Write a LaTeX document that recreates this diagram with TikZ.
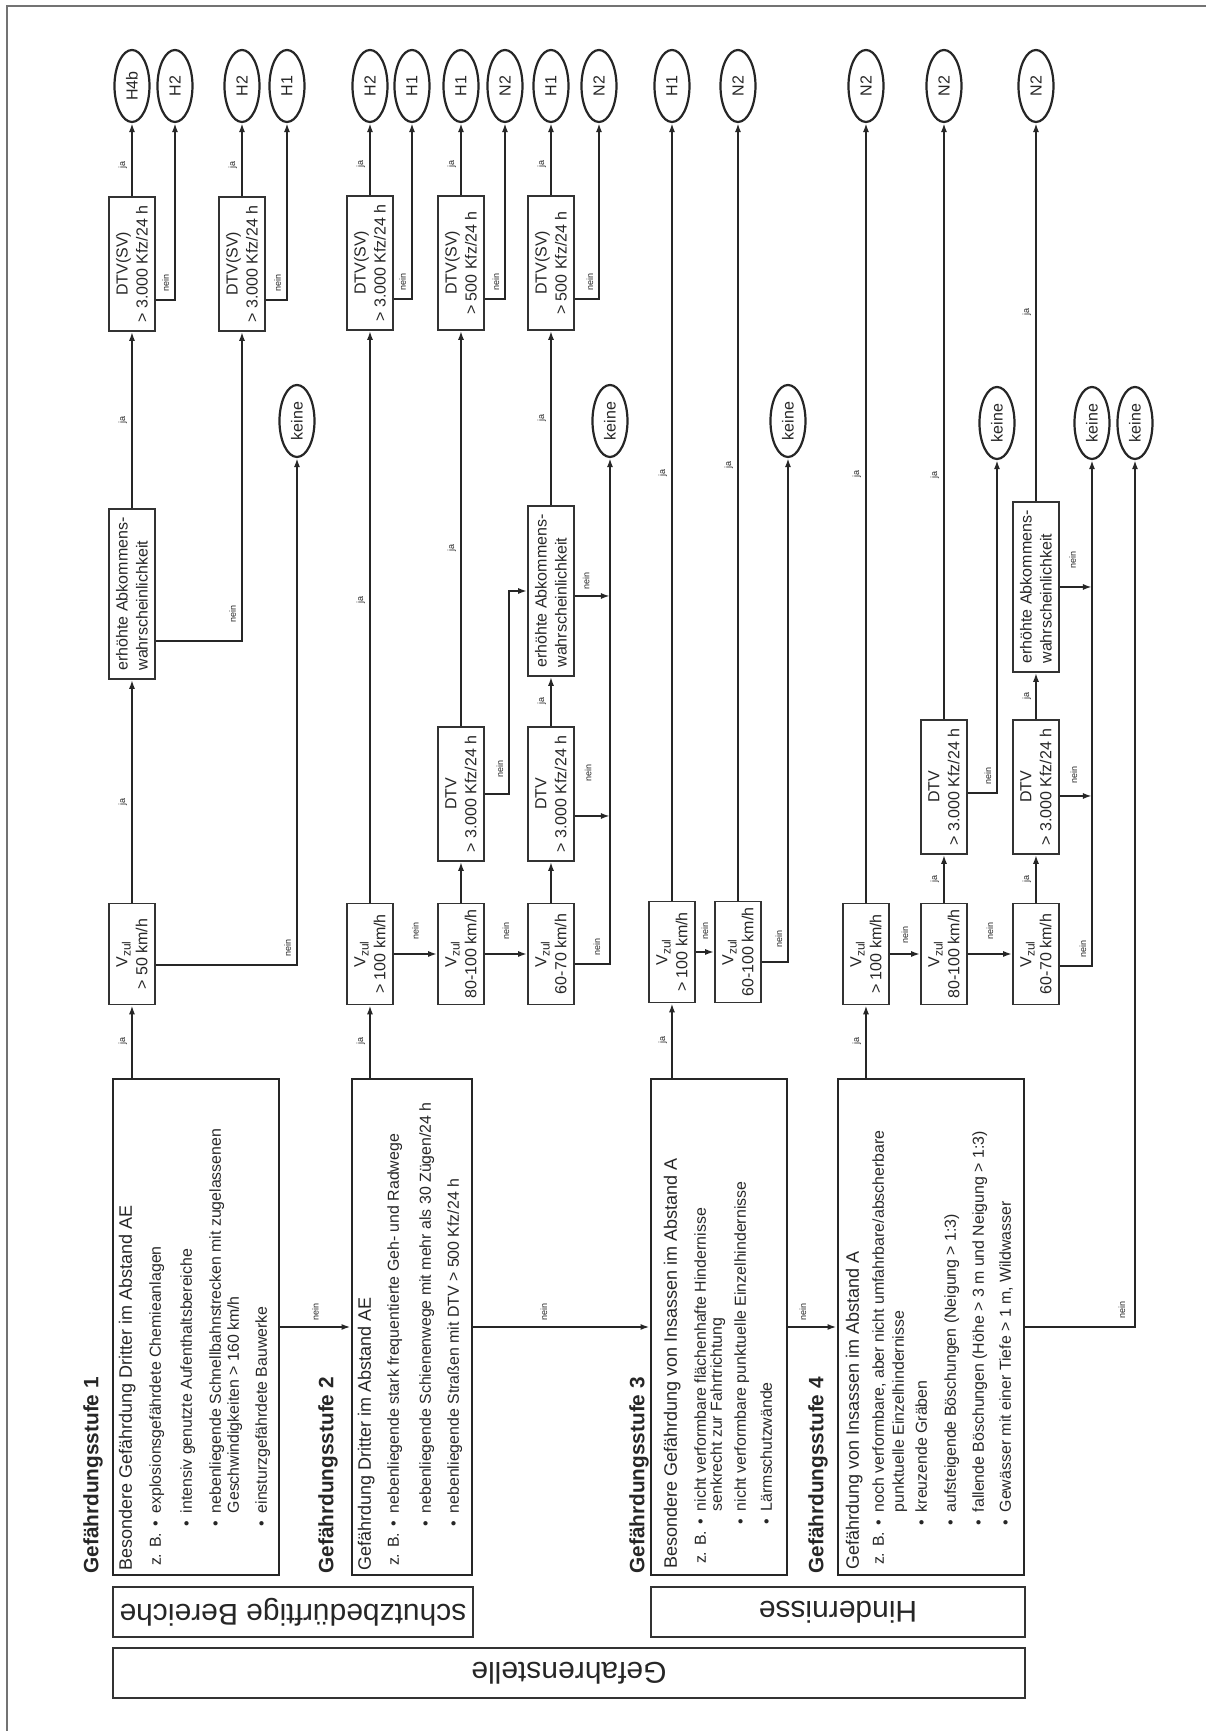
\documentclass[tikz,border=0pt]{standalone}
\usepackage{fontspec}
\setmainfont{Liberation Sans}
\usetikzlibrary{arrows.meta,shapes.geometric}
\begin{document}
\begin{tikzpicture}[x=0.5pt, y=0.5pt, rotate=90, transform shape,
  every node/.style={font=\fontsize{8}{10}\selectfont, text=black!85},
  stagebox/.style={draw=black!85, line width=1.4pt, minimum width=248pt, inner sep=0pt},
  stagetext/.style={anchor=north west, inner sep=0pt, font=\fontsize{7.95}{9.5}\selectfont},
  stagehead/.style={anchor=west, inner sep=0pt, font=\fontsize{10.4}{12}\selectfont\bfseries},
  qbox/.style={draw=black!80, line width=0.8pt, align=center, inner sep=1pt, minimum height=23pt},
  vbox/.style={qbox, minimum width=50.5pt},
  dtvbox/.style={qbox, minimum width=67pt},
  abkbox/.style={qbox, minimum width=85pt, align=left},
  result/.style={ellipse, draw=black!85, line width=1.1pt, minimum width=36pt, minimum height=17.5pt, inner sep=0pt},
  band/.style={draw=black!80, line width=0.9pt, rotate=90, minimum height=25pt, inner sep=0pt, font=\fontsize{15}{18}\selectfont},
  flow/.style={draw=black!85, line width=0.9pt, -{Latex[length=4.5pt,width=3pt]}},
  lbl/.style={font=\fontsize{4.5}{5}\selectfont, inner sep=2pt},
  crn/.style={lbl, pos=0.5, anchor=south west, xshift=2pt, yshift=0.5pt}]

\useasboundingbox (0,0) rectangle (1731,1206);

% page frame
\draw[black!55, line width=0.8pt] (0,1199) -- (1725,1199) -- (1725,0);

% bands
\node[band, minimum width=180pt] (bsb) at (119,913) {schutzbedürftige Bereiche};
\node[band, minimum width=187pt] (bhi) at (119,368) {Hindernisse};
\node[band, minimum width=456pt] (bgs) at (58,637) {Gefahrenstelle};

% stages
\node[stagebox, minimum height=83pt] (s1) at (404,1010) {};
\node[stagebox, minimum height=60pt] (s2) at (404,794) {};
\node[stagebox, minimum height=68pt] (s3) at (404,487) {};
\node[stagebox, minimum height=93pt] (s4) at (404,275) {};
\node[stagehead] (h1) at (157,1113) {Gefährdungsstufe 1};
\node[stagehead] (h2) at (157,878) {Gefährdungsstufe 2};
\node[stagehead] (h3) at (157,567) {Gefährdungsstufe 3};
\node[stagehead] (h4) at (157,388) {Gefährdungsstufe 4};

\node[stagetext, xshift=2.5pt, yshift=-3.35pt] (t1) at (s1.north west) {%
\begin{tabular}{@{}l@{\hspace{3pt}}l@{}}
\multicolumn{2}{@{}l@{}}{\fontsize{9}{10}\selectfont Besondere Gefährdung Dritter im Abstand AE}\\[5pt]
\hspace{2.5pt}z. B. & \textbullet\enspace explosionsgefährdete Chemieanlagen\\[6pt]
 & \textbullet\enspace intensiv genutzte Aufenthaltsbereiche\\[5pt]
 & \textbullet\enspace nebenliegende Schnellbahnstrecken mit zugelassenen\\[-0.5pt]
 & \hphantom{\textbullet\enspace}Geschwindigkeiten > 160 km/h\\[4.5pt]
 & \textbullet\enspace einsturzgefährdete Bauwerke
\end{tabular}};
\node[stagetext, xshift=2.5pt, yshift=-3.35pt] (t2) at (s2.north west) {%
\begin{tabular}{@{}l@{\hspace{3pt}}l@{}}
\multicolumn{2}{@{}l@{}}{\fontsize{9}{10}\selectfont Gefährdung Dritter im Abstand AE}\\[4.5pt]
\hspace{2.5pt}z. B. & \textbullet\enspace nebenliegende stark frequentierte Geh- und Radwege\\[6.5pt]
 & \textbullet\enspace nebenliegende Schienenwege mit mehr als 30 Zügen/24 h\\[4.5pt]
 & \textbullet\enspace nebenliegende Straßen mit DTV > 500 Kfz/24 h
\end{tabular}};
\node[stagetext, xshift=3.5pt, yshift=-6.85pt] (t3) at (s3.north west) {%
\begin{tabular}{@{}l@{\hspace{3pt}}l@{}}
\multicolumn{2}{@{}l@{}}{\fontsize{9}{10}\selectfont Besondere Gefährdung von Insassen im Abstand A}\\[5pt]
\hspace{2.5pt}z. B. & \textbullet\enspace nicht verformbare flächenhafte Hindernisse\\[-1.5pt]
 & \hphantom{\textbullet\enspace}senkrecht zur Fahrtrichtung\\[2.5pt]
 & \textbullet\enspace nicht verformbare punktuelle Einzelhindernisse\\[3.5pt]
 & \textbullet\enspace Lärmschutzwände
\end{tabular}};
\node[stagetext, xshift=3pt, yshift=-4.35pt] (t4) at (s4.north west) {%
\begin{tabular}{@{}l@{\hspace{3pt}}l@{}}
\multicolumn{2}{@{}l@{}}{\fontsize{9}{10}\selectfont Gefährdung von Insassen im Abstand A}\\[3pt]
\hspace{2.5pt}z. B. & \textbullet\enspace noch verformbare, aber nicht umfahrbare/abscherbare\\[0.5pt]
 & \hphantom{\textbullet\enspace}punktuelle Einzelhindernisse\\[2pt]
 & \textbullet\enspace kreuzende Gräben\\[5pt]
 & \textbullet\enspace aufsteigende Böschungen (Neigung > 1:3)\\[4.5pt]
 & \textbullet\enspace fallende Böschungen (Höhe > 3 m und Neigung > 1:3)\\[4pt]
 & \textbullet\enspace Gewässer mit einer Tiefe > 1 m, Wildwasser
\end{tabular}};

\draw[flow] (s1.south) -- (s1.south |- s2.north) node[lbl, midway, right=1pt] {nein};
\draw[flow] (s2.south) -- (s2.south |- s3.north) node[lbl, pos=0.4, right=1pt] {nein};
\draw[flow] (s3.south) -- (s3.south |- s4.north) node[lbl, pos=0.3, right=1pt] {nein};

% stage 1
\node[vbox] (a1) at (777,1074) {V\textsubscript{zul}\\> 50 km/h};
\node[abkbox] (e1) at (1137,1074) {erhöhte Abkommens-\\wahrscheinlichkeit};
\node[dtvbox] (d1a) at (1467,1074) {DTV(SV)\\> 3.000 Kfz/24 h};
\node[dtvbox] (d1b) at (1467,964) {DTV(SV)\\> 3.000 Kfz/24 h};
\node[result] (o1a) at (1645,1074) {H4b};
\node[result] (o1b) at (1645,1031) {H2};
\node[result] (o1c) at (1645,964) {H2};
\node[result] (o1d) at (1645,919) {H1};
\node[result] (k1) at (1310,909) {keine};
\coordinate (a1n) at ([xshift=-5.5pt]a1.south);
\coordinate (e1n) at ([xshift=-23.5pt]e1.south);
\coordinate (d1an) at ([xshift=-18pt]d1a.south);
\coordinate (d1bn) at ([xshift=-18pt]d1b.south);

\draw[flow] (s1.east |- a1.west) -- (a1.west) node[lbl, midway, above] {ja};
\draw[flow] (a1.east) -- (e1.west) node[lbl, pos=0.45, above] {ja};
\draw[flow] (e1.east) -- (d1a.west) node[lbl, midway, above] {ja};
\draw[flow] (d1a.east) -- (o1a.west) node[lbl, pos=0.43, above] {ja};
\draw[flow] (d1an) |- (o1b.west) node[crn] {nein};
\draw[flow] (e1n) |- (d1b.west) node[crn, xshift=5pt] {nein};
\draw[flow] (d1b.east) -- (o1c.west) node[lbl, pos=0.43, above] {ja};
\draw[flow] (d1bn) |- (o1d.west) node[crn] {nein};
\draw[flow] (a1n) |- (k1.west) node[crn] {nein};

% stage 2
\node[vbox] (a2) at (777,836) {V\textsubscript{zul}\\> 100 km/h};
\node[dtvbox] (d2a) at (1468,836) {DTV(SV)\\> 3.000 Kfz/24 h};
\node[result] (o2a) at (1645,836) {H2};
\node[result] (o2b) at (1645,794) {H1};
\node[vbox] (b2) at (777,745) {V\textsubscript{zul}\\80-100 km/h};
\node[dtvbox] (c2) at (937,745) {DTV\\> 3.000 Kfz/24 h};
\node[dtvbox] (d2b) at (1468,745) {DTV(SV)\\> 500 Kfz/24 h};
\node[result] (o2c) at (1645,745) {H1};
\node[result] (o2d) at (1645,701) {N2};
\node[vbox] (f2) at (777,655) {V\textsubscript{zul}\\60-70 km/h};
\node[dtvbox] (g2) at (937,655) {DTV\\> 3.000 Kfz/24 h};
\node[abkbox] (e2) at (1140,655) {erhöhte Abkommens-\\wahrscheinlichkeit};
\node[dtvbox] (d2c) at (1468,655) {DTV(SV)\\> 500 Kfz/24 h};
\node[result] (o2e) at (1645,655) {H1};
\node[result] (o2f) at (1645,607) {N2};
\node[result] (k2) at (1310,596) {keine};
\coordinate (d2an) at ([xshift=-18pt]d2a.south);
\coordinate (d2bn) at ([xshift=-18pt]d2b.south);
\coordinate (d2cn) at ([xshift=-18pt]d2c.south);
\coordinate (f2n) at ([xshift=-5pt]f2.south);
\coordinate (g2n) at ([xshift=-11pt]g2.south);
\coordinate (e2n) at ([xshift=-2.5pt]e2.south);

\draw[flow] (s2.east |- a2.west) -- (a2.west) node[lbl, midway, above] {ja};
\draw[flow] (a2.east) -- (d2a.west) node[lbl, pos=0.53, above] {ja};
\draw[flow] (d2a.east) -- (o2a.west) node[lbl, pos=0.43, above] {ja};
\draw[flow] (d2an) |- (o2b.west) node[crn] {nein};
\draw[flow] (a2.south) -- (b2.north) node[lbl, midway, right=4.75pt] {nein};
\draw[flow] (b2.east) -- (c2.west);
\draw[flow] (c2.east) -- (d2b.west) node[lbl, pos=0.45, above] {ja};
\draw[flow] (d2b.east) -- (o2c.west) node[lbl, pos=0.43, above] {ja};
\draw[flow] (d2bn) |- (o2d.west) node[crn] {nein};
\draw[flow] (c2.south) |- node[crn, xshift=4pt] {nein} ([yshift=9pt]e2.north) -- (e2.north);
\draw[flow] (b2.south) -- (f2.north) node[lbl, midway, right=4.75pt] {nein};
\draw[flow] (f2.east) -- (g2.west);
\draw[flow] (g2.east) -- (e2.west) node[lbl, midway, above] {ja};
\draw[flow] (e2.east) -- (d2c.west) node[lbl, midway, above] {ja};
\draw[flow] (d2c.east) -- (o2e.west) node[lbl, pos=0.43, above] {ja};
\draw[flow] (d2cn) |- (o2f.west) node[crn] {nein};
\draw[flow] (f2n) |- (k2.west) node[crn, yshift=2pt] {nein};
\draw[flow] (g2n) -- (g2n |- k2.west) node[lbl, pos=0.38, right=14.75pt] {nein};
\draw[flow] (e2n) -- (e2n |- k2.west) node[lbl, pos=0.32, right=0.75pt] {nein};

% stage 3
\node[vbox] (a3) at (779,534) {V\textsubscript{zul}\\> 100 km/h};
\node[result] (o3a) at (1645,534) {H1};
\node[vbox] (b3) at (779,468) {V\textsubscript{zul}\\60-100 km/h};
\node[result] (o3b) at (1645,468) {N2};
\node[result] (k3) at (1310,418) {keine};
\coordinate (b3n) at ([xshift=-5pt]b3.south);

\draw[flow] (s3.east |- a3.west) -- (a3.west) node[lbl, midway, above] {ja};
\draw[flow] (a3.east) -- (o3a.west) node[lbl, pos=0.55, above] {ja};
\draw[flow] (a3.south) -- (b3.north) node[lbl, midway, right=3.75pt] {nein};
\draw[flow] (b3.east) -- (o3b.west) node[lbl, pos=0.56, above] {ja};
\draw[flow] (b3n) |- (k3.west) node[crn, xshift=3pt] {nein};

% stage 4
\node[vbox] (a4) at (777,340) {V\textsubscript{zul}\\> 100 km/h};
\node[result] (o4a) at (1645,340) {N2};
\node[vbox] (b4) at (777,262) {V\textsubscript{zul}\\80-100 km/h};
\node[dtvbox] (c4) at (944,262) {DTV\\> 3.000 Kfz/24 h};
\node[result] (o4b) at (1645,262) {N2};
\node[vbox] (f4) at (777,170) {V\textsubscript{zul}\\60-70 km/h};
\node[dtvbox] (g4) at (944,170) {DTV\\> 3.000 Kfz/24 h};
\node[abkbox] (e4) at (1144,170) {erhöhte Abkommens-\\wahrscheinlichkeit};
\node[result] (o4c) at (1645,170) {N2};
\node[result] (k4a) at (1308,209) {keine};
\node[result] (k4b) at (1308,114) {keine};
\node[result] (k4c) at (1308,71) {keine};
\coordinate (c4n) at ([xshift=-3pt]c4.south);
\coordinate (f4n) at ([xshift=-6pt]f4.south);
\coordinate (g4n) at ([xshift=-4.5pt]g4.south);

\draw[flow] (s4.east |- a4.west) -- (a4.west) node[lbl, midway, above] {ja};
\draw[flow] (a4.east) -- (o4a.west) node[lbl, pos=0.55, above] {ja};
\draw[flow] (a4.south) -- (b4.north) node[lbl, midway, right=2.75pt] {nein};
\draw[flow] (b4.east) -- (c4.west) node[lbl, midway, above] {ja};
\draw[flow] (c4.east) -- (o4b.west) node[lbl, pos=0.41, above] {ja};
\draw[flow] (c4n) |- (k4a.west) node[crn] {nein};
\draw[flow] (b4.south) -- (f4.north) node[lbl, midway, right=4.75pt] {nein};
\draw[flow] (f4.east) -- (g4.west) node[lbl, midway, above] {ja};
\draw[flow] (g4.east) -- (e4.west) node[lbl, midway, above] {ja};
\draw[flow] (e4.east) -- (o4c.west) node[lbl, midway, above] {ja};
\draw[flow] (g4n) -- (g4n |- k4b.west) node[lbl, pos=0.44, right=3.75pt] {nein};
\draw[flow] (f4n) |- (k4b.west) node[crn] {nein};
\draw[flow] (e4.south) -- (e4.south |- k4b.west) node[lbl, pos=0.4, right=6.75pt] {nein};
\draw[flow] (s4.south) |- (k4c.west) node[crn, yshift=2pt] {nein};

\end{tikzpicture}
\end{document}
